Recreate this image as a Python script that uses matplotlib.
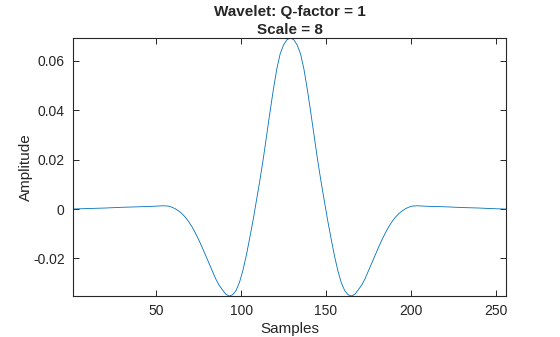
import matplotlib
matplotlib.use("Agg")
import matplotlib.pyplot as plt
from matplotlib.ticker import FixedLocator

plt.rcParams['font.family'] = ['Liberation Sans', 'DejaVu Sans']

# Wavelet samples (sample index) and amplitudes
samples = [1, 10, 20, 30, 40, 48, 54, 57, 59, 61, 63, 65, 67, 69, 71, 73, 75, 77,
           79, 81, 83, 85, 87, 89, 91, 93, 95, 97, 99, 101, 103, 105, 107, 109,
           111, 113, 115, 117, 119, 121, 123, 125, 127, 129,
           131, 133, 135, 137, 139, 141, 143, 145, 147, 149, 151, 153, 155, 157,
           159, 161, 163, 165, 167, 169, 171, 173, 175, 177, 179, 181, 183, 185,
           187, 189, 191, 193, 195, 197, 199, 201, 204, 210, 220, 230, 240, 250, 256]
amplitude = [0.0000, 0.0002, 0.0004, 0.0007, 0.0009, 0.0011, 0.0013, 0.0012,
             0.0008, 0.0002, -0.0007, -0.0018, -0.0032, -0.0050, -0.0071,
             -0.0096, -0.0124, -0.0154, -0.0186, -0.0218, -0.0250, -0.0282,
             -0.0308, -0.0327, -0.0345, -0.0352, -0.0347, -0.0330, -0.0298,
             -0.0250, -0.0190, -0.0120, -0.0047, 0.0033, 0.0114, 0.0201,
             0.0296, 0.0392, 0.0484, 0.0566, 0.0628, 0.0664, 0.0685, 0.0692,
             0.0685, 0.0664, 0.0628, 0.0566, 0.0484, 0.0392, 0.0296, 0.0201,
             0.0114, 0.0033, -0.0047, -0.0120, -0.0190, -0.0250, -0.0298,
             -0.0330, -0.0347, -0.0352, -0.0345, -0.0327, -0.0308, -0.0282,
             -0.0250, -0.0218, -0.0186, -0.0154, -0.0124, -0.0096, -0.0071,
             -0.0050, -0.0032, -0.0018, -0.0007, 0.0002, 0.0008, 0.0012,
             0.0013, 0.0011, 0.0009, 0.0006, 0.0004, 0.0001, 0.0000]

x_ticks = [50, 100, 150, 200, 250]
y_ticks = [-0.02, 0, 0.02, 0.04, 0.06]
y_tick_labels = ['-0.02', '0', '0.02', '0.04', '0.06']

text_color = '#262626'

fig = plt.figure(figsize=(5.6, 3.37), dpi=100)
ax = fig.add_axes([73 / 560, 41 / 337, 433 / 560, 258 / 337])

ax.plot(samples, amplitude, color='#0072BD', linewidth=0.6)

ax.set_xlim(1, 256)
ax.set_ylim(min(amplitude), max(amplitude))

ax.xaxis.set_major_locator(FixedLocator(x_ticks))
ax.yaxis.set_major_locator(FixedLocator(y_ticks))
ax.set_yticklabels(y_tick_labels)

ax.tick_params(direction='in', length=4, width=0.7, top=True, right=True,
               labelsize=10, colors=text_color, pad=6)
for spine in ax.spines.values():
    spine.set_color(text_color)
    spine.set_linewidth(0.8)

ax.set_xlabel('Samples', fontsize=11, color=text_color, labelpad=3)
ax.set_ylabel('Amplitude', fontsize=11, color=text_color, labelpad=0)
ax.set_title('Wavelet: Q-factor = 1\nScale = 8', fontsize=11, fontweight='bold',
             color=text_color, pad=3, linespacing=1.35)

fig.savefig('out.png', dpi=100)
